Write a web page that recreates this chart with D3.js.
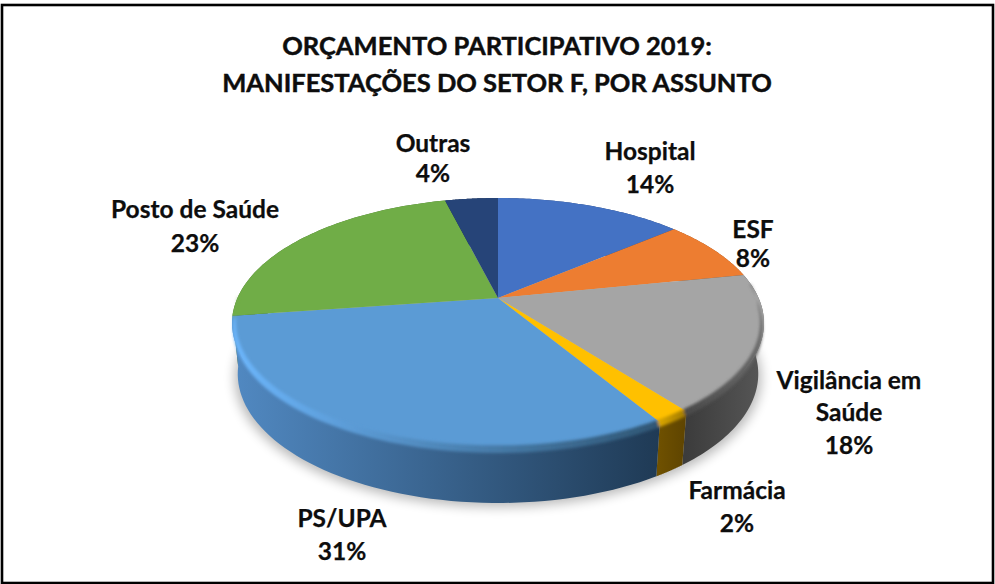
<!DOCTYPE html>
<html>
<head>
<meta charset="utf-8">
<script src="https://cdn.jsdelivr.net/npm/d3@7/dist/d3.min.js"></script>
<style>
html,body{margin:0;padding:0;background:#fff;overflow:hidden}
svg{display:block}
text{font-family:Lato,"Open Sans",sans-serif;font-weight:700;fill:#0d0d0d;stroke:#0d0d0d;stroke-width:.25px;text-anchor:middle}
text.title{stroke-width:.45px}
</style>
</head>
<body>
<svg id="chart" width="995" height="584"></svg>
<script>
// ---- data ----
const categories = ["Hospital","ESF","Vigilância em Saúde","Farmácia","PS/UPA","Posto de Saúde","Outras"];
const shares = [13.8, 8, 17.8, 1.8, 31.3, 23.4, 3.9];
const titleLines = ["ORÇAMENTO PARTICIPATIVO 2019:","MANIFESTAÇÕES DO SETOR F, POR ASSUNTO"];

// ---- styling & layout ----
const topColors = ["#4472c4","#ed7d31","#a5a5a5","#ffc000","#5b9bd5","#70ad47","#264478"];
const wallStops = [
  ["#2a4478","#2a4478"],["#8a4a1c","#8a4a1c"],["#3c3c3c","#575757"],["#6e5000","#5e4400"],
  ["#5189c2","#1f3a55"],["#44702c","#44702c"],["#16284a","#16284a"]];
const rimStops = [
  ["#4472c4","#4472c4"],["#c86a2a","#c86a2a"],["#4a4a4a","#6a6a6a"],["#d8a400","#a07a00"],
  ["#6cb6fc","#2f5674"],["#70ad47","#70ad47"],["#264478","#264478"]];
const labelAnchors = [[650,[151,184]],[753,[229,258]],[849,[380,412,445]],[737,[490,523]],
                      [342,[518,551]],[195,[209,243]],[433,[143,173]]];
const labelLines = [["Hospital"],["ESF"],["Vigilância em","Saúde"],["Farmácia"],["PS/UPA"],["Posto de Saúde"],["Outras"]];
const W = 995, H = 584;

const svg = d3.select("#chart");
const defs = svg.append("defs");
defs.append("filter").attr("id","shadowBlur").attr("x","-10%").attr("y","-10%").attr("width","120%").attr("height","120%")
  .append("feGaussianBlur").attr("stdDeviation",6);
defs.append("filter").attr("id","rimBlur").attr("x","-5%").attr("y","-5%").attr("width","110%").attr("height","110%")
  .append("feGaussianBlur").attr("stdDeviation",1.4);

// frame
svg.append("rect").attr("x",2).attr("y",5).attr("width",W-4).attr("height",H-6)
  .attr("fill","#fff").attr("stroke","#000").attr("stroke-width",2.6);

// title
svg.selectAll("text.title").data(titleLines).join("text").attr("class","title")
  .attr("x",497).attr("y",(d,i)=>[55,92][i]).attr("font-size",25.5).text(d=>d);

// perspective projection of the pie disc
const cx = 498;
const persp = 0.2;
const topPlane = {a:260.6, b:120, y0:298, shift:0};
const floorPlane = {a:255, b:124, y0:348, shift:0};
const project = (theta, r, p) => {
  const X = r*Math.sin(theta), Y = r*Math.cos(theta), d = 1+persp*Y;
  return [cx + p.a*X/d, p.y0 - p.b*Y/d + p.shift];
};
const line = d3.line();
const samples = (a0,a1) => d3.range(0,61).map(i => a0 + (a1-a0)*i/60);

const pie = d3.pie().sort(null).value(d=>d);
const arcs = pie(shares);

// soft shadow below the disc
svg.append("path")
  .attr("d", line(samples(0,2*Math.PI).map(t=>project(t,1,{...floorPlane,a:258,shift:4}))) + "Z")
  .attr("fill","#000").attr("opacity",.28).attr("filter","url(#shadowBlur)");

// gradients for walls and rim
const wallX = d => {
  const xs = samples(d.startAngle,d.endAngle).map(t=>project(t,1,topPlane)[0]);
  return [d3.min(xs),d3.max(xs)];
};
arcs.forEach((d,i)=>{
  const [x0,x1] = wallX(d);
  [["wall",wallStops],["rim",rimStops]].forEach(([n,s])=>{
    const g = defs.append("linearGradient").attr("id",n+i).attr("gradientUnits","userSpaceOnUse")
      .attr("x1",x0).attr("x2",x1).attr("y1",0).attr("y2",0);
    g.append("stop").attr("offset",0).attr("stop-color",s[i][0]);
    g.append("stop").attr("offset",1).attr("stop-color",s[i][1]);
  });
});

// walls, back slices first so the front ones win at the silhouette
const depth = d => -Math.cos((d.startAngle+d.endAngle)/2);
const arcsByDepth = arcs.map((d,i)=>({...d,i})).sort((a,b)=>depth(a)-depth(b));
svg.append("g").selectAll("path").data(arcsByDepth).join("path")
  .attr("d",d=>{
    const t = samples(d.startAngle,d.endAngle);
    return line(t.map(a=>project(a,1,topPlane)).concat(t.slice().reverse().map(a=>project(a,1,floorPlane))))+"Z";
  })
  .attr("fill",d=>`url(#wall${d.i})`);

// top faces
svg.append("g").selectAll("path").data(arcs).join("path")
  .attr("d",d=>line([project(0,0,topPlane)].concat(samples(d.startAngle,d.endAngle).map(a=>project(a,1,topPlane))))+"Z")
  .attr("fill",(d,i)=>topColors[i]);

// rim: soft rounded bevel, only on the side that faces the viewer
const frontStart = 1.45, frontEnd = 4.72;
const rimFace = (a,b) => {
  const s = Math.max(a,frontStart), e = Math.min(b,frontEnd);
  return s < e ? [s,e] : null;
};
const rimWidth = a => Math.min(1,(a-frontStart)/.2,(frontEnd-a)/.2);
const rim = svg.append("g").attr("filter","url(#rimBlur)");
rim.selectAll("path").data(arcs.filter((d,i)=>rimFace(d.startAngle,d.endAngle)).map(d=>({...d,i:arcs.indexOf(d)}))).join("path")
  .attr("d",d=>{
    const [s,e] = rimFace(d.startAngle,d.endAngle);
    const t = samples(s,e);
    return line(t.map(a=>project(a,1-.014*rimWidth(a),topPlane))
      .concat(t.slice().reverse().map(a=>project(a,1,{...topPlane,a:259.5,shift:5*rimWidth(a)}))))+"Z";
  })
  .attr("fill",d=>`url(#rim${d.i})`);

// data labels
const pct = d3.format(".0f");
const labels = svg.append("g");
categories.forEach((c,i)=>{
  const [x,ys] = labelAnchors[i];
  labelLines[i].concat(pct(shares[i])+"%").forEach((t,j)=>{
    labels.append("text").attr("x",x).attr("y",ys[j]).attr("dy",".35em").attr("font-size",24.5).text(t);
  });
});
</script>
</body>
</html>
